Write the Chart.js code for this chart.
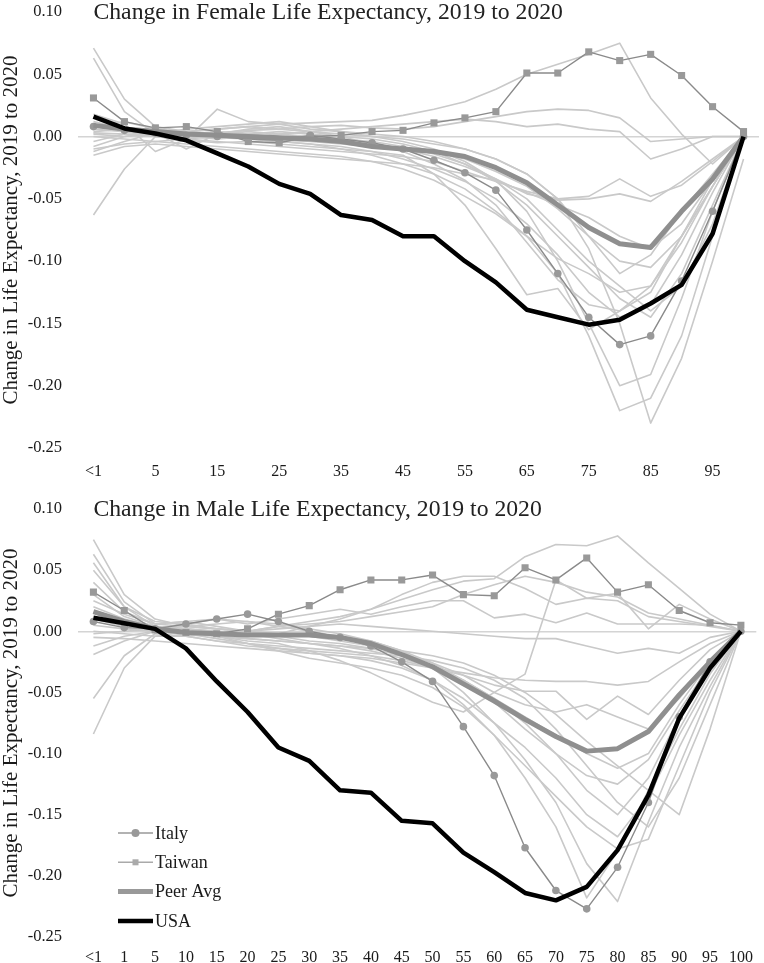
<!DOCTYPE html>
<html>
<head>
<meta charset="UTF-8">
<title>Change in Life Expectancy, 2019 to 2020</title>
<script src="https://cdn.jsdelivr.net/npm/chart.js@4.4.1/dist/chart.umd.min.js"></script>
<style>
  body { margin: 0; background: #fff; }
  .panel { position: absolute; left: 0; width: 764px; }
  #top { top: 0; height: 482px; }
  #bottom { top: 482px; height: 481px; }
</style>
</head>
<body>
<div class="panel" id="top"><canvas id="female" width="764" height="482"></canvas></div>
<div class="panel" id="bottom"><canvas id="male" width="764" height="481"></canvas></div>
<script>
// age groups (x axis)
const ages = ['<1', '1', '5', '10', '15', '20', '25', '30', '35', '40', '45', '50',
              '55', '60', '65', '70', '75', '80', '85', '90', '95', '100'];

// female panel
const femaleUSA    = [0.016, 0.0065, 0.0025, -0.003, -0.0135, -0.024, -0.038, -0.046, -0.063, -0.067, -0.080, -0.080, -0.100, -0.117, -0.139, -0.145, -0.151, -0.147, -0.134, -0.119, -0.078, 0.000];
const femalePeer   = [0.009, 0.006, 0.004, 0.002, 0.001, 0.000, -0.001, -0.002, -0.004, -0.008, -0.010, -0.012, -0.016, -0.025, -0.037, -0.055, -0.073, -0.086, -0.089, -0.060, -0.034, 0.000];
const femaleItaly  = [0.008, 0.005, 0.003, 0.001, 0.000, -0.002, -0.003, 0.001, -0.002, -0.005, -0.010, -0.019, -0.029, -0.043, -0.075, -0.110, -0.145, -0.167, -0.160, -0.116, -0.060, 0.000];
const femaleTaiwan = [0.031, 0.012, 0.007, 0.008, 0.004, -0.004, -0.005, 0.000, 0.001, 0.004, 0.005, 0.011, 0.015, 0.020, 0.051, 0.051, 0.068, 0.061, 0.066, 0.049, 0.024, 0.004];
// other peer countries, female
const femaleOther = [
  [0.071, 0.030, 0.008, 0.004, 0.006, 0.008, 0.010, 0.011, 0.012, 0.013, 0.017, 0.022, 0.028, 0.038, 0.050, 0.058, 0.066, 0.075, 0.031, 0.002, -0.022, 0.000],
  [0.063, 0.020, 0.002, 0.000, 0.003, 0.005, 0.006, 0.008, 0.009, 0.007, 0.006, 0.008, 0.012, 0.016, 0.020, 0.022, 0.021, 0.015, -0.004, -0.002, 0.000, 0.000],
  [-0.063, -0.026, 0.000, -0.003, -0.005, -0.004, -0.006, -0.008, -0.010, -0.012, -0.015, -0.030, -0.055, -0.090, -0.127, -0.122, -0.155, -0.140, -0.120, -0.080, -0.040, 0.000],
  [0.018, 0.010, -0.012, -0.002, 0.022, 0.012, 0.010, 0.006, 0.004, 0.002, 0.000, -0.004, -0.010, -0.018, -0.030, -0.050, -0.080, -0.110, -0.095, -0.060, -0.030, 0.000],
  [-0.012, -0.004, 0.003, -0.010, 0.002, 0.006, 0.008, 0.004, 0.000, -0.006, -0.012, -0.022, -0.035, -0.055, -0.085, -0.115, -0.135, -0.140, -0.125, -0.080, -0.035, 0.000],
  [-0.008, 0.000, 0.004, 0.002, 0.000, -0.002, -0.004, -0.006, -0.010, -0.015, -0.022, -0.030, -0.042, -0.060, -0.080, -0.110, -0.160, -0.220, -0.210, -0.160, -0.080, 0.000],
  [0.004, 0.006, 0.002, 0.004, 0.006, 0.008, 0.006, 0.004, 0.002, 0.000, -0.002, -0.006, -0.010, -0.018, -0.030, -0.050, -0.090, -0.150, -0.230, -0.178, -0.100, -0.018],
  [0.010, 0.004, 0.002, 0.006, 0.008, 0.010, 0.012, 0.008, 0.004, 0.000, -0.004, -0.010, -0.020, -0.035, -0.060, -0.100, -0.150, -0.200, -0.191, -0.130, -0.060, 0.000],
  [-0.004, 0.002, 0.000, -0.002, -0.004, -0.006, -0.008, -0.010, -0.012, -0.014, -0.016, -0.020, -0.028, -0.036, -0.044, -0.050, -0.048, -0.034, -0.048, -0.039, -0.020, 0.000],
  [0.006, 0.004, 0.000, 0.002, 0.004, 0.002, 0.000, -0.002, -0.004, -0.006, -0.010, -0.016, -0.024, -0.034, -0.046, -0.051, -0.050, -0.046, -0.052, -0.036, -0.018, 0.000],
  [0.002, 0.000, 0.002, 0.000, -0.002, 0.000, 0.002, 0.004, 0.006, 0.008, 0.010, 0.012, 0.014, 0.012, 0.008, 0.010, 0.006, 0.004, -0.018, -0.010, 0.000, 0.000],
  [-0.010, -0.006, -0.004, -0.006, -0.008, -0.010, -0.012, -0.014, -0.016, -0.020, -0.026, -0.035, -0.048, -0.062, -0.080, -0.098, -0.110, -0.125, -0.120, -0.085, -0.040, 0.000],
  [0.012, 0.006, 0.004, 0.002, 0.000, -0.002, -0.004, -0.006, -0.008, -0.012, -0.018, -0.026, -0.036, -0.050, -0.070, -0.095, -0.125, -0.145, -0.135, -0.095, -0.045, 0.000],
  [0.000, -0.002, -0.004, -0.002, 0.000, 0.002, 0.004, 0.002, 0.000, -0.002, -0.006, -0.012, -0.022, -0.036, -0.055, -0.080, -0.105, -0.130, -0.145, -0.110, -0.055, 0.000],
  [-0.015, -0.008, -0.006, -0.008, -0.010, -0.012, -0.014, -0.016, -0.018, -0.020, -0.022, -0.025, -0.030, -0.035, -0.045, -0.055, -0.065, -0.080, -0.090, -0.070, -0.035, 0.000],
  [0.008, 0.012, 0.006, 0.004, 0.002, 0.004, 0.002, 0.000, -0.002, -0.004, -0.008, -0.014, -0.022, -0.034, -0.050, -0.075, -0.100, -0.120, -0.140, -0.120, -0.070, 0.000],
  [0.003, 0.002, 0.001, 0.000, -0.001, -0.002, -0.003, -0.004, -0.006, -0.008, -0.010, -0.012, -0.018, -0.028, -0.040, -0.058, -0.080, -0.100, -0.105, -0.080, -0.040, 0.000]
];

// male panel
const maleUSA    = [0.011, 0.0065, 0.002, -0.014, -0.041, -0.066, -0.095, -0.106, -0.130, -0.132, -0.155, -0.157, -0.181, -0.197, -0.214, -0.220, -0.209, -0.179, -0.134, -0.071, -0.030, 0.000];
const malePeer   = [0.016, 0.008, 0.002, -0.001, -0.002, -0.003, -0.003, -0.003, -0.005, -0.010, -0.019, -0.029, -0.043, -0.057, -0.072, -0.086, -0.098, -0.096, -0.082, -0.052, -0.025, 0.000];
const maleItaly  = [0.008, 0.003, 0.002, 0.006, 0.010, 0.014, 0.008, 0.000, -0.005, -0.012, -0.025, -0.041, -0.078, -0.118, -0.177, -0.212, -0.227, -0.193, -0.140, -0.070, -0.025, 0.000];
const maleTaiwan = [0.032, 0.017, 0.001, -0.001, -0.002, 0.002, 0.014, 0.021, 0.034, 0.042, 0.042, 0.046, 0.030, 0.029, 0.052, 0.042, 0.060, 0.032, 0.038, 0.017, 0.007, 0.005];
// other peer countries, male
const maleOther = [
  [0.075, 0.030, 0.010, 0.004, 0.002, 0.000, 0.004, 0.008, 0.012, 0.018, 0.026, 0.034, 0.041, 0.043, 0.061, 0.071, 0.070, 0.078, 0.056, 0.035, 0.014, 0.000],
  [0.063, 0.024, 0.006, 0.008, 0.010, 0.006, 0.010, 0.014, 0.018, 0.014, 0.020, 0.025, 0.025, 0.011, 0.014, 0.007, 0.015, 0.006, 0.006, 0.006, 0.005, 0.000],
  [0.056, 0.020, 0.004, 0.002, 0.000, -0.004, -0.002, 0.004, 0.010, 0.018, 0.030, 0.040, 0.045, 0.045, 0.035, 0.022, 0.027, 0.025, 0.012, 0.008, 0.004, 0.000],
  [-0.084, -0.030, -0.004, 0.000, -0.004, -0.008, -0.010, -0.016, -0.024, -0.034, -0.046, -0.058, -0.066, -0.050, -0.035, 0.042, 0.027, 0.031, 0.002, 0.022, 0.010, 0.000],
  [-0.055, -0.020, -0.002, -0.004, -0.008, -0.012, -0.014, -0.016, -0.018, -0.020, -0.024, -0.030, -0.040, -0.055, -0.075, -0.100, -0.130, -0.150, -0.120, -0.070, -0.030, 0.000],
  [-0.019, -0.008, 0.000, 0.006, 0.010, 0.008, 0.004, 0.000, -0.004, -0.008, -0.016, -0.030, -0.050, -0.075, -0.105, -0.140, -0.190, -0.221, -0.156, -0.095, -0.045, 0.000],
  [0.030, 0.012, 0.004, 0.002, 0.000, -0.002, -0.006, -0.010, -0.014, -0.020, -0.028, -0.040, -0.060, -0.085, -0.120, -0.160, -0.218, -0.180, -0.130, -0.080, -0.035, 0.000],
  [0.010, 0.004, 0.002, -0.004, -0.008, -0.010, -0.014, -0.018, -0.020, -0.024, -0.030, -0.040, -0.055, -0.075, -0.095, -0.120, -0.150, -0.168, -0.135, -0.085, -0.040, 0.000],
  [-0.005, -0.006, -0.008, -0.010, -0.012, -0.014, -0.016, -0.018, -0.020, -0.022, -0.026, -0.030, -0.034, -0.038, -0.040, -0.041, -0.041, -0.044, -0.041, -0.025, -0.010, 0.000],
  [0.020, 0.010, 0.004, 0.000, -0.004, -0.006, -0.008, -0.010, -0.012, -0.016, -0.022, -0.030, -0.036, -0.044, -0.049, -0.049, -0.072, -0.053, -0.068, -0.040, -0.015, 0.000],
  [0.000, -0.002, -0.004, -0.004, -0.002, 0.000, 0.002, 0.004, 0.006, 0.004, 0.002, 0.000, -0.002, -0.004, -0.006, -0.006, -0.012, -0.018, -0.014, -0.018, -0.005, 0.000],
  [0.040, 0.016, 0.006, 0.004, 0.006, 0.008, 0.006, 0.002, -0.002, -0.008, -0.016, -0.026, -0.040, -0.058, -0.080, -0.100, -0.118, -0.125, -0.105, -0.065, -0.028, 0.000],
  [0.015, 0.008, 0.004, 0.000, -0.004, -0.010, -0.016, -0.022, -0.026, -0.030, -0.036, -0.046, -0.062, -0.085, -0.110, -0.135, -0.160, -0.178, -0.170, -0.110, -0.050, 0.000],
  [-0.012, -0.004, 0.000, -0.002, -0.006, -0.010, -0.012, -0.014, -0.016, -0.018, -0.020, -0.024, -0.030, -0.040, -0.055, -0.080, -0.110, -0.140, -0.160, -0.120, -0.060, 0.000],
  [0.025, 0.014, 0.006, 0.008, 0.004, 0.000, -0.004, -0.008, -0.010, -0.014, -0.020, -0.028, -0.040, -0.055, -0.070, -0.085, -0.100, -0.112, -0.100, -0.060, -0.025, 0.000],
  [0.005, 0.002, 0.000, -0.002, -0.004, -0.006, -0.008, -0.010, -0.012, -0.014, -0.016, -0.020, -0.026, -0.036, -0.050, -0.068, -0.090, -0.110, -0.130, -0.150, -0.080, 0.000],
  [-0.002, 0.000, 0.002, 0.004, 0.002, 0.000, -0.002, -0.004, -0.008, -0.012, -0.018, -0.026, -0.036, -0.050, -0.060, -0.066, -0.060, -0.070, -0.080, -0.055, -0.025, 0.000],
  [0.050, 0.020, 0.008, 0.006, 0.002, 0.000, 0.004, 0.006, 0.008, 0.012, 0.016, 0.020, 0.030, 0.038, 0.045, 0.040, 0.032, 0.028, 0.015, 0.010, 0.005, 0.000]
];

const serif = "'Liberation Serif', 'Times New Roman', serif";
Chart.defaults.font.family = serif;
Chart.defaults.color = '#1a1a1a';

// title written inside the plot, level with the 0.10 tick
const panelTitle = {
  id: 'panelTitle',
  afterDraw(chart, args, opts) {
    const ctx = chart.ctx;
    const x = chart.scales.x.getPixelForValue(0);
    ctx.save();
    ctx.font = '23.7px ' + serif;
    ctx.fillStyle = '#222';
    ctx.textBaseline = 'alphabetic';
    ctx.fillText(opts.text, x, chart.chartArea.top + 7);
    ctx.restore();
  }
};

// small legend in the lower left of the plot
const cornerLegend = {
  id: 'cornerLegend',
  afterDraw(chart, args, opts) {
    if (!opts.show) return;
    const ctx = chart.ctx;
    const area = chart.chartArea;
    const x0 = area.left + 40, x1 = area.left + 75;
    ['Italy', 'Taiwan', 'Peer Avg', 'USA'].forEach((name, i) => {
      const ds = chart.data.datasets.find(d => d.label === name);
      const y = area.bottom - 104 + i * 29.3;
      ctx.save();
      ctx.strokeStyle = ds.legendColor || ds.borderColor;
      ctx.lineWidth = ds.borderWidth;
      ctx.beginPath();
      ctx.moveTo(x0, y);
      ctx.lineTo(x1, y);
      ctx.stroke();
      ctx.fillStyle = ds.legendColor || ds.borderColor;
      if (ds.pointStyle === 'circle') {
        ctx.beginPath();
        ctx.arc((x0 + x1) / 2, y, 4, 0, Math.PI * 2);
        ctx.fill();
      } else if (ds.pointStyle === 'rect') {
        ctx.fillRect((x0 + x1) / 2 - 3, y - 3, 6, 6);
      }
      ctx.font = '18px ' + serif;
      ctx.fillStyle = '#1a1a1a';
      ctx.textBaseline = 'middle';
      ctx.fillText(name, x1 + 2, y + 1);
      ctx.restore();
    });
  }
};

function buildDatasets(usa, peer, italy, taiwan, others) {
  const sets = [
    { label: 'USA', data: usa, borderColor: '#000', borderWidth: 4.5, pointRadius: 0 },
    { label: 'Peer Avg', data: peer, borderColor: '#8f8f8f', legendColor: '#999', borderWidth: 5, pointRadius: 0 },
    { label: 'Italy', data: italy, borderColor: '#8a8a8a', legendColor: '#999', borderWidth: 1.4,
      pointStyle: 'circle', pointRadius: 3.8, pointBackgroundColor: '#999', pointBorderWidth: 0 },
    { label: 'Taiwan', data: taiwan, borderColor: '#8a8a8a', legendColor: '#aaa', borderWidth: 1.4,
      pointStyle: 'rect', pointRadius: 5, pointBackgroundColor: '#999', pointBorderWidth: 0 }
  ];
  others.forEach((d, i) => {
    sets.push({ label: 'Peer ' + (i + 1), data: d, borderColor: '#c9c9c9', borderWidth: 1.6, pointRadius: 0 });
  });
  return sets;
}

function makeChart(id, datasets, title, isTop) {
  return new Chart(document.getElementById(id), {
    type: 'line',
    data: { labels: ages, datasets: datasets },
    plugins: [panelTitle, cornerLegend],
    options: {
      responsive: false,
      animation: false,
      devicePixelRatio: 1,
      elements: { line: { tension: 0, borderJoinStyle: 'round' } },
      layout: { padding: { top: isTop ? 12 : 27, right: 2, left: 0, bottom: 0 } },
      plugins: {
        legend: { display: false },
        tooltip: { enabled: false },
        panelTitle: { text: title },
        cornerLegend: { show: !isTop }
      },
      scales: {
        x: {
          type: 'category',
          offset: true,
          grid: { display: false, drawTicks: false },
          border: { display: false },
          afterFit: s => { s.height = isTop ? 34 : 26; },
          ticks: {
            autoSkip: false,
            maxRotation: 0,
            padding: isTop ? 14 : 11,
            font: { size: 16 },
            callback: (v, i) => (isTop && i % 2 === 1) ? '' : ages[i]
          }
        },
        y: {
          min: -0.25,
          max: 0.10,
          afterFit: s => { s.width = 78; },
          grid: {
            drawTicks: true,
            tickLength: 16,
            tickColor: 'rgba(0,0,0,0)',
            lineWidth: 1.5,
            color: c => Math.abs(c.tick.value) < 1e-9 ? '#d4d4d4' : 'rgba(0,0,0,0)'
          },
          border: { display: false },
          ticks: {
            stepSize: 0.05,
            padding: 0,
            font: { size: 16.5 },
            callback: v => Math.abs(v) < 1e-9 ? '0.00' : v.toFixed(2)
          },
          title: {
            display: true,
            text: 'Change in Life Expectancy, 2019 to 2020',
            font: { size: 21, lineHeight: 1.05 },
            color: '#1a1a1a',
            padding: { top: 0, bottom: 0 }
          }
        }
      }
    }
  });
}

makeChart('female', buildDatasets(femaleUSA, femalePeer, femaleItaly, femaleTaiwan, femaleOther),
  'Change in Female Life Expectancy, 2019 to 2020', true);
makeChart('male', buildDatasets(maleUSA, malePeer, maleItaly, maleTaiwan, maleOther),
  'Change in Male Life Expectancy, 2019 to 2020', false);
</script>
</body>
</html>
